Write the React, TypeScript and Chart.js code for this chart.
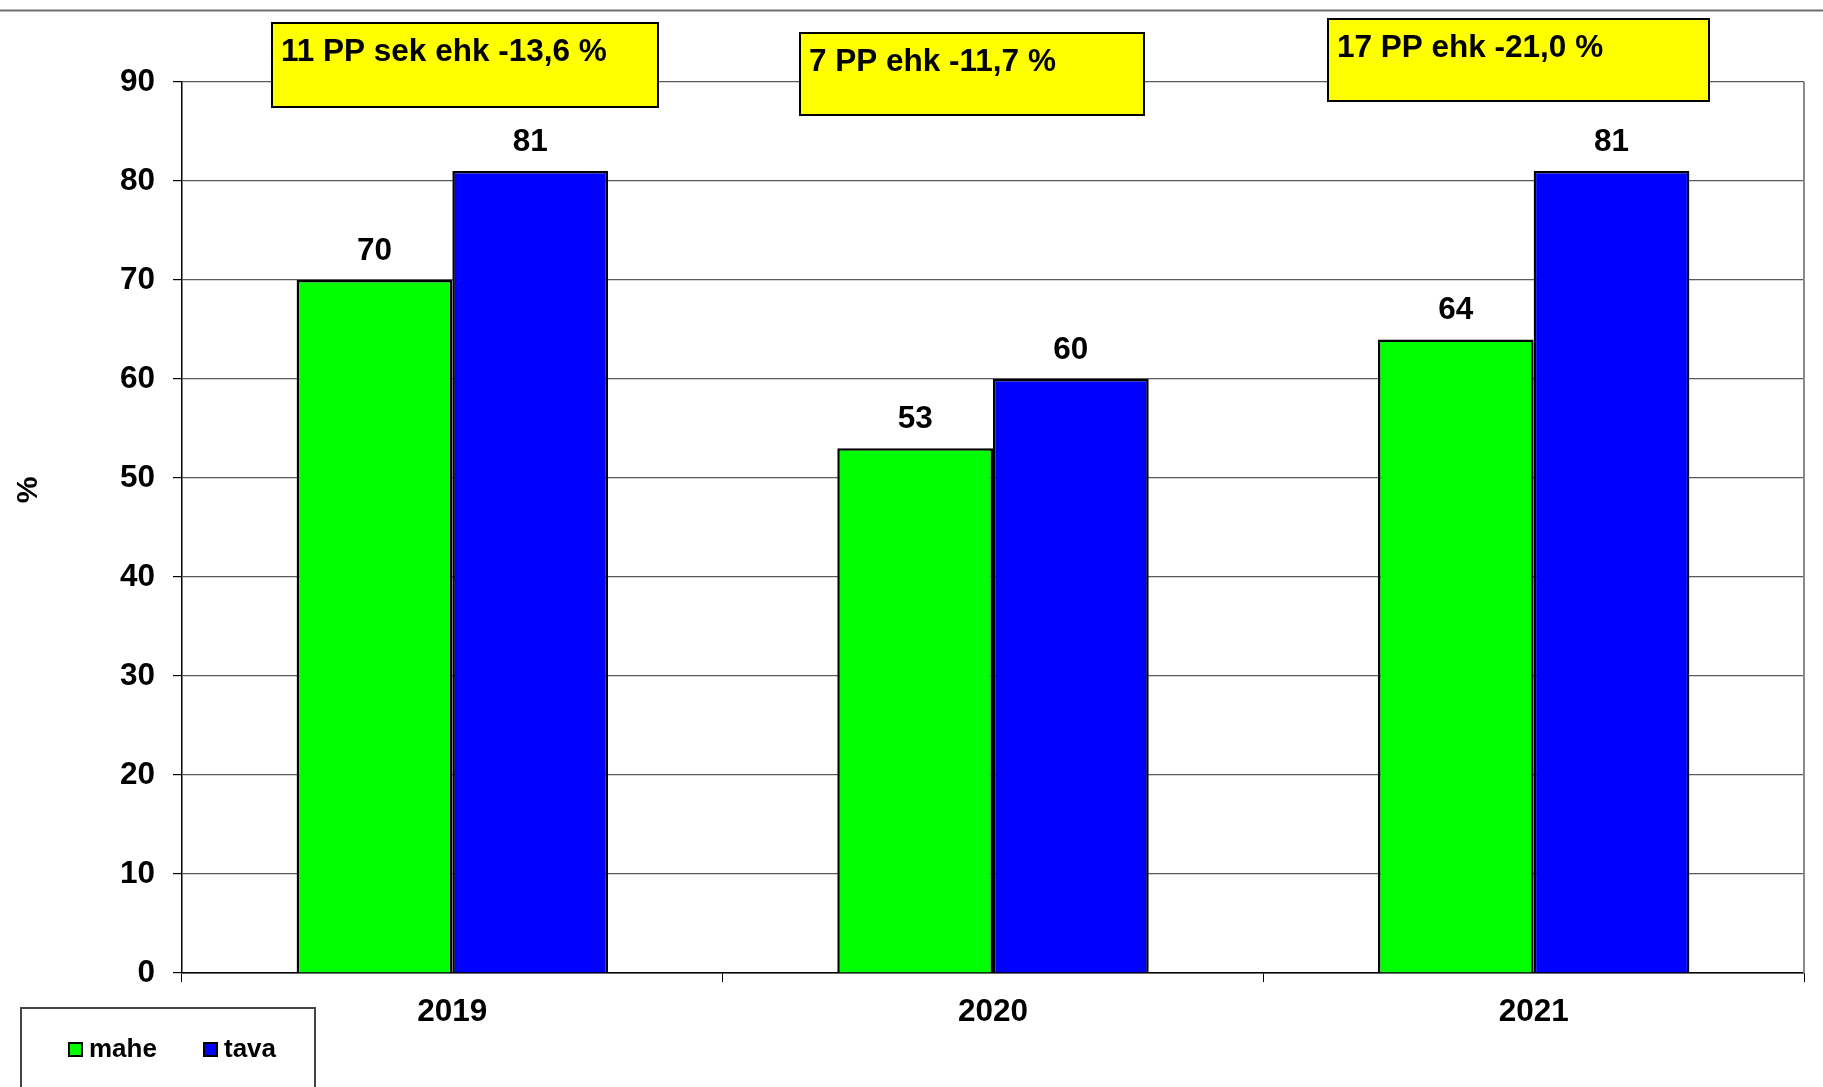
import React, { useEffect, useRef } from 'react';
import { Chart, registerables } from 'chart.js';

Chart.register(...registerables);

// ---- data ----
const categories = ['2019', '2020', '2021'];
const seriesNames = ['mahe', 'tava'];
const maheValues = [70, 53, 64];
const tavaValues = [81, 60, 81];
const seriesColors = ['#00FF00', '#0000FF'];
const yMin = 0;
const yMax = 90;
const yStep = 10;
const yTitle = '%';
const annotationTexts = ['11 PP sek ehk -13,6 %', '7 PP ehk -11,7 %', '17 PP ehk -21,0 %'];

// ---- layout (pixels) ----
const W = 1823;
const H = 1087;
const FONT = '"Liberation Sans", Arial, sans-serif';
const annotationBoxes = [
  { x: 272, y: 23, w: 386, h: 84 },
  { x: 800, y: 33, w: 344, h: 82 },
  { x: 1328, y: 19, w: 381, h: 82 },
];

const extrasPlugin = {
  id: 'extras',
  beforeDraw(chart: any) {
    const ctx = chart.ctx;
    ctx.save();
    ctx.fillStyle = '#fff';
    ctx.fillRect(0, 0, W, H);
    ctx.strokeStyle = '#6e6e6e';
    ctx.lineWidth = 2;
    ctx.beginPath();
    ctx.moveTo(0, 10.5);
    ctx.lineTo(W, 10.5);
    ctx.stroke();
    ctx.restore();
  },
  afterDraw(chart: any) {
    const ctx = chart.ctx;
    const ca = chart.chartArea;
    ctx.save();
    // right border of plot area
    ctx.strokeStyle = '#8a8a8a';
    ctx.lineWidth = 2;
    ctx.beginPath();
    ctx.moveTo(ca.right, ca.top);
    ctx.lineTo(ca.right, ca.bottom);
    ctx.stroke();

    // data labels
    ctx.fillStyle = '#000';
    ctx.font = `bold 31.5px ${FONT}`;
    ctx.textAlign = 'center';
    ctx.textBaseline = 'middle';
    chart.data.datasets.forEach((ds: any, di: number) => {
      const meta = chart.getDatasetMeta(di);
      meta.data.forEach((bar: any, i: number) => {
        ctx.fillText(String(ds.data[i]), bar.x, bar.y - 29);
      });
    });

    // annotation boxes
    annotationTexts.forEach((t, i) => {
      const b = annotationBoxes[i];
      ctx.fillStyle = '#FFFF00';
      ctx.fillRect(b.x, b.y, b.w, b.h);
      ctx.strokeStyle = '#000';
      ctx.lineWidth = 2;
      ctx.strokeRect(b.x, b.y, b.w, b.h);
      ctx.fillStyle = '#000';
      ctx.font = `bold 31.5px ${FONT}`;
      ctx.textAlign = 'left';
      ctx.textBaseline = 'middle';
      ctx.fillText(t, b.x + 9, b.y + 29);
    });

    // y title
    ctx.save();
    ctx.translate(29, 490);
    ctx.rotate(-Math.PI / 2);
    ctx.font = `bold 30px ${FONT}`;
    ctx.textAlign = 'center';
    ctx.textBaseline = 'middle';
    ctx.fillStyle = '#000';
    ctx.fillText(yTitle, 0, 0);
    ctx.restore();

    // legend
    ctx.strokeStyle = '#444';
    ctx.lineWidth = 2;
    ctx.strokeRect(21, 1008, 294, 120);
    const items = [
      { sx: 69, tx: 89 },
      { sx: 204, tx: 224 },
    ];
    chart.data.datasets.forEach((ds: any, di: number) => {
      const it = items[di];
      ctx.fillStyle = ds.backgroundColor;
      ctx.fillRect(it.sx, 1043, 13, 13);
      ctx.strokeStyle = '#000';
      ctx.lineWidth = 2;
      ctx.strokeRect(it.sx, 1043, 13, 13);
      ctx.fillStyle = '#000';
      ctx.font = `bold 26px ${FONT}`;
      ctx.textAlign = 'left';
      ctx.textBaseline = 'middle';
      ctx.fillText(ds.label, it.tx, 1050);
    });
    ctx.restore();
  },
};

export default function App() {
  const ref = useRef<HTMLCanvasElement | null>(null);
  useEffect(() => {
    if (!ref.current) return;
    const chart = new Chart(ref.current, {
      type: 'bar',
      data: {
        labels: categories,
        datasets: [
          {
            label: seriesNames[0],
            data: maheValues,
            backgroundColor: seriesColors[0],
            borderColor: '#000',
            borderWidth: 2.5,
            categoryPercentage: 0.576,
            barPercentage: 1,
          },
          {
            label: seriesNames[1],
            data: tavaValues,
            backgroundColor: seriesColors[1],
            borderColor: '#000',
            borderWidth: 2.5,
            categoryPercentage: 0.576,
            barPercentage: 1,
          },
        ],
      },
      options: {
        responsive: false,
        animation: false,
        layout: { padding: { left: 0, top: 82, right: 19, bottom: 0 } },
        plugins: { legend: { display: false }, tooltip: { enabled: false } },
        scales: {
          x: {
            grid: {
              offset: true,
              drawOnChartArea: false,
              drawTicks: true,
              tickLength: 9,
              tickColor: '#000',
            },
            border: { display: true, color: '#000', width: 1.5 },
            ticks: {
              color: '#000',
              font: { family: FONT, size: 31.5, weight: 'bold' },
              padding: 11,
              maxRotation: 0,
            },
            afterFit: (s: any) => {
              s.height = 114;
            },
          },
          y: {
            min: yMin,
            max: yMax,
            ticks: {
              stepSize: yStep,
              color: '#000',
              font: { family: FONT, size: 31.5, weight: 'bold' },
              padding: 18,
            },
            grid: {
              color: '#5a5a5a',
              lineWidth: 1.2,
              tickColor: '#000',
              tickLength: 9,
            },
            border: { display: true, color: '#000', width: 1.5 },
            afterFit: (s: any) => {
              s.width = 182;
            },
          },
        },
      },
      plugins: [extrasPlugin],
    });
    return () => chart.destroy();
  }, []);
  return (
    <div style={{ position: 'fixed', left: 0, top: 0, width: W, height: H, background: '#fff' }}>
      <canvas ref={ref} width={W} height={H} style={{ width: W, height: H, display: 'block' }} />
    </div>
  );
}
